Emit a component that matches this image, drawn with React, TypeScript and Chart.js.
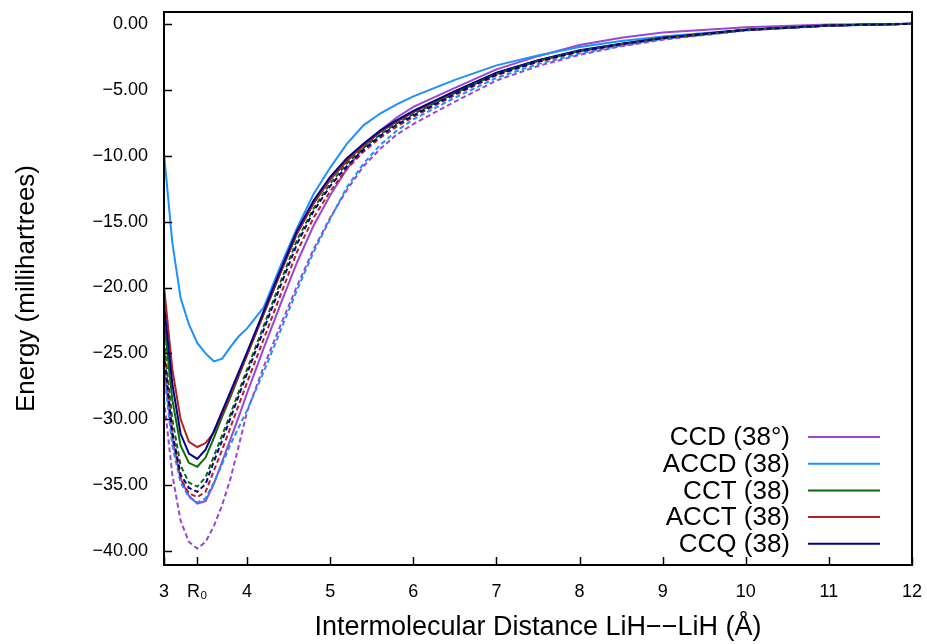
import React, { useEffect, useRef } from 'react';
import { Chart, registerables } from 'chart.js';

Chart.register(...registerables);

// Intermolecular distance (Å)
const DIST = [3.0, 3.1, 3.2, 3.3, 3.4, 3.5, 3.6, 3.7, 3.8, 3.9, 4.0, 4.2, 4.4, 4.6, 4.8, 5.0, 5.2, 5.4, 5.6, 5.8, 6.0, 6.5, 7.0, 7.5, 8.0, 8.5, 9.0, 10, 11, 12];

// Solid curves (legend entries)
const CCD_38 = [-26.0, -31.5, -34.5, -35.8, -36.4, -36.2, -34.9, -33.2, -31.5, -29.8, -28.0, -24.6, -21.3, -18.1, -15.3, -13.0, -11.0, -9.4, -8.1, -7.1, -6.3, -4.85, -3.45, -2.45, -1.6, -1.05, -0.65, -0.25, -0.05, 0];
const ACCD_38 = [-9.8, -16.6, -20.8, -22.8, -24.2, -25.0, -25.6, -25.4, -24.5, -23.7, -23.1, -21.5, -18.4, -15.5, -12.9, -10.9, -9.1, -7.7, -6.8, -6.1, -5.5, -4.25, -3.15, -2.4, -1.75, -1.3, -0.95, -0.45, -0.15, 0];
const CCT_38 = [-22.5, -28.5, -32.0, -33.3, -33.6, -32.9, -31.4, -29.8, -28.3, -26.7, -25.1, -22.0, -18.9, -15.9, -13.6, -11.8, -10.4, -9.2, -8.2, -7.4, -6.7, -5.15, -3.75, -2.8, -2.05, -1.55, -1.1, -0.47, -0.13, 0];
const ACCT_38 = [-19.9, -26.2, -30.0, -31.7, -32.1, -31.8, -31.0, -29.6, -28.1, -26.6, -25.1, -22.0, -18.9, -15.9, -13.6, -11.8, -10.4, -9.2, -8.2, -7.4, -6.7, -5.15, -3.75, -2.8, -2.05, -1.55, -1.1, -0.47, -0.13, 0];
const CCQ_38 = [-21.3, -27.3, -31.1, -32.6, -33.0, -32.3, -30.9, -29.4, -27.9, -26.4, -24.9, -21.8, -18.7, -15.7, -13.4, -11.6, -10.2, -9.1, -8.1, -7.3, -6.6, -5.1, -3.7, -2.75, -2.0, -1.5, -1.05, -0.45, -0.12, 0];

// Dashed companion curves (no legend entry)
const CCD_ALT = [-28.5, -34.2, -37.7, -39.3, -39.8, -39.3, -38.1, -36.5, -34.5, -32.0, -29.4, -26.0, -22.9, -19.9, -17.1, -14.7, -12.6, -10.8, -9.5, -8.4, -7.6, -5.9, -4.3, -3.2, -2.35, -1.7, -1.2, -0.5, -0.14, 0];
const ACCD_ALT = [-26.5, -32.0, -34.8, -35.9, -36.3, -36.0, -34.8, -33.4, -31.9, -30.6, -29.3, -26.4, -23.3, -20.2, -17.3, -14.8, -12.4, -10.6, -9.2, -8.1, -7.25, -5.6, -4.1, -3.05, -2.25, -1.65, -1.15, -0.48, -0.13, 0];
const CCT_ALT = [-24.0, -30.0, -33.5, -34.8, -35.1, -34.4, -32.8, -31.2, -29.6, -27.9, -26.2, -22.9, -19.6, -16.4, -14.0, -12.1, -10.6, -9.4, -8.4, -7.55, -6.85, -5.25, -3.8, -2.8, -2.05, -1.52, -1.07, -0.46, -0.12, 0];
const ACCT_ALT = [-24.5, -31.0, -34.5, -35.6, -35.9, -35.5, -33.9, -32.3, -30.6, -28.9, -27.2, -23.9, -20.6, -17.3, -14.7, -12.7, -11.0, -9.7, -8.65, -7.8, -7.05, -5.4, -3.9, -2.88, -2.1, -1.55, -1.08, -0.46, -0.12, 0];
const CCQ_ALT = [-25.0, -31.0, -34.2, -35.2, -35.5, -34.9, -33.2, -31.6, -29.9, -28.2, -26.5, -23.2, -19.9, -16.7, -14.2, -12.3, -10.8, -9.55, -8.5, -7.65, -6.95, -5.3, -3.85, -2.85, -2.08, -1.54, -1.08, -0.46, -0.12, 0];

const LEGEND_LABELS = ['CCD (38°)', 'ACCD (38)', 'CCT (38)', 'ACCT (38)', 'CCQ (38)'];
const COLORS = ['#9b45d6', '#1e90ff', '#0b6b0b', '#b22222', '#00008b'];

const X_TICKS = [3, 3.4, 4, 5, 6, 7, 8, 9, 10, 11, 12];
const X_TICK_LABELS = ['3', 'R₀', '4', '5', '6', '7', '8', '9', '10', '11', '12'];
const Y_TICKS = [-40, -35, -30, -25, -20, -15, -10, -5, 0];

const FONT = '"Liberation Sans", Arial, Helvetica, sans-serif';

const fmtY = (v: number) => (v === 0 ? '0.00' : '\u2212' + Math.abs(v).toFixed(2));

const framePlugin = {
  id: 'frameAndLegend',
  afterDatasetsDraw(chart: any) {
    const { ctx, chartArea: a, scales } = chart;
    ctx.save();
    ctx.strokeStyle = '#000';
    ctx.lineWidth = 1.5;
    ctx.beginPath();
    for (const v of Y_TICKS) {
      const y = Math.round(scales.y.getPixelForValue(v)) + 0.5;
      ctx.moveTo(a.left, y);
      ctx.lineTo(a.left + 8, y);
    }
    for (const v of X_TICKS) {
      const x = Math.round(scales.x.getPixelForValue(v)) + 0.5;
      ctx.moveTo(x, a.bottom);
      ctx.lineTo(x, a.bottom - 8);
    }
    ctx.stroke();
    ctx.lineWidth = 2;
    ctx.strokeRect(a.left, a.top, a.right - a.left, a.bottom - a.top);

    // legend (solid series only)
    const ds = chart.data.datasets;
    ctx.font = `26px ${FONT}`;
    ctx.textAlign = 'right';
    ctx.textBaseline = 'middle';
    for (let i = 0; i < LEGEND_LABELS.length; i++) {
      const y = a.bottom - 128 + i * 26.7;
      ctx.fillStyle = '#000';
      ctx.fillText(ds[i].label, a.right - 122, y + 1);
      ctx.strokeStyle = ds[i].borderColor;
      ctx.lineWidth = 2;
      ctx.beginPath();
      ctx.moveTo(a.right - 104, y);
      ctx.lineTo(a.right - 32, y);
      ctx.stroke();
    }
    ctx.restore();
  },
};

export default function App() {
  const ref = useRef<HTMLCanvasElement>(null);

  useEffect(() => {
    if (!ref.current) return;
    Chart.defaults.font.family = FONT;
    const solid = [CCD_38, ACCD_38, CCT_38, ACCT_38, CCQ_38];
    const dashed = [CCD_ALT, ACCD_ALT, CCT_ALT, ACCT_ALT, CCQ_ALT];
    const mk = (arr: number[]) => DIST.map((x, i) => ({ x, y: arr[i] }));
    const datasets: any[] = [];
    solid.forEach((s, i) =>
      datasets.push({
        label: LEGEND_LABELS[i],
        data: mk(s),
        borderColor: COLORS[i],
        backgroundColor: COLORS[i],
        borderWidth: 2,
        pointRadius: 0,
        tension: 0,
        fill: false,
        order: 10 - i,
      })
    );
    dashed.forEach((s, i) =>
      datasets.push({
        label: LEGEND_LABELS[i] + ' alt',
        data: mk(s),
        borderColor: COLORS[i],
        backgroundColor: COLORS[i],
        borderWidth: 2,
        borderDash: [5, 3],
        pointRadius: 0,
        tension: 0,
        fill: false,
        order: 5 - i,
      })
    );

    const chart = new Chart(ref.current, {
      type: 'line',
      data: { datasets },
      options: {
        animation: false,
        responsive: false,
        maintainAspectRatio: false,
        layout: { padding: { left: 0, right: 15, top: 12, bottom: 0 } },
        plugins: { legend: { display: false }, tooltip: { enabled: false } },
        scales: {
          x: {
            type: 'linear',
            min: 3,
            max: 12,
            grid: { display: false, drawTicks: false },
            border: { display: false },
            afterBuildTicks: (s: any) => {
              s.ticks = X_TICKS.map((v) => ({ value: v }));
            },
            afterFit: (s: any) => {
              s.height = 79;
              s.paddingLeft = 0;
              s.paddingRight = 0;
            },
            ticks: {
              autoSkip: false,
              maxRotation: 0,
              padding: 16,
              color: '#000',
              font: { size: 18, family: FONT },
              callback: (_v: any, i: number) => X_TICK_LABELS[i],
            },
            title: {
              display: true,
              text: 'Intermolecular Distance LiH\u2212\u2212LiH (Å)',
              color: '#000',
              font: { size: 27, family: FONT },
              padding: { top: 0, bottom: 0 },
            },
          },
          y: {
            type: 'linear',
            min: -41.05,
            max: 0.9,
            grid: { display: false, drawTicks: false },
            border: { display: false },
            afterBuildTicks: (s: any) => {
              s.ticks = Y_TICKS.map((v) => ({ value: v }));
            },
            afterFit: (s: any) => {
              s.width = 164;
              s.paddingTop = 0;
              s.paddingBottom = 0;
            },
            ticks: {
              padding: 16,
              color: '#000',
              font: { size: 18, family: FONT },
              callback: (v: any) => fmtY(Number(v)),
            },
            title: {
              display: true,
              text: 'Energy (millihartrees)',
              color: '#000',
              font: { size: 26, family: FONT },
              padding: { top: 11, bottom: 0 },
            },
          },
        },
      },
      plugins: [framePlugin],
    });
    return () => chart.destroy();
  }, []);

  return (
    <div style={{ position: 'absolute', left: 0, top: 0, width: 927, height: 644, background: '#fff' }}>
      <canvas ref={ref} width={927} height={644} style={{ display: 'block' }} />
    </div>
  );
}
